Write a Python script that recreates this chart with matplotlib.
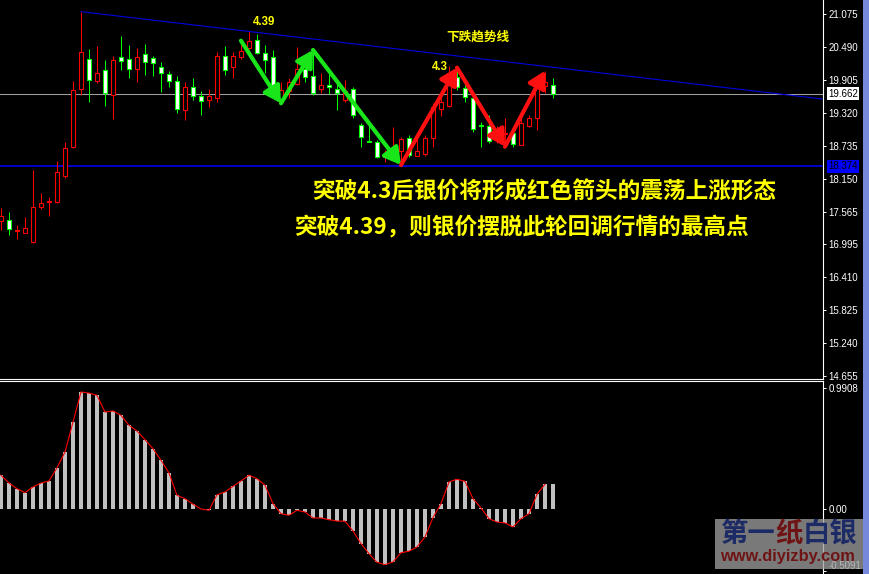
import numpy as np
import matplotlib
matplotlib.use("Agg")
import matplotlib.pyplot as plt
import matplotlib.transforms as mtransforms
from matplotlib.patches import Rectangle, FancyArrowPatch

# candles, one per bar on screen
opens = [17.409, 17.422, 17.235, 17.196, 17.026, 17.647, 17.741, 17.746, 18.207, 18.711,
         19.740, 20.272, 19.881, 20.077, 19.633, 20.307, 20.272, 20.105, 20.360, 20.289,
         20.130, 20.016, 19.881, 19.367, 19.775, 19.615, 19.545, 19.580, 20.325, 20.130,
         20.307, 20.467, 20.609, 20.378, 20.307, 19.520, 19.715, 19.828, 20.094, 19.970,
         19.740, 19.811, 19.740, 19.550, 19.740, 19.106, 18.823, 18.810, 18.544, 18.486,
         18.651, 18.881, 18.562, 18.587, 18.871, 19.385, 19.443, 19.963, 19.757, 19.580,
         19.098, 19.089, 18.853, 18.947, 18.959, 18.752, 19.089, 19.225, 19.798, 19.816]
highs = [17.634, 17.564, 17.333, 17.475, 18.308, 17.895, 17.824, 18.463, 18.810, 19.887,
         21.116, 20.449, 20.507, 20.259, 20.330, 20.685, 20.525, 20.467, 20.543, 20.330,
         20.224, 20.069, 19.975, 19.874, 19.940, 19.715, 19.740, 20.396, 20.502, 20.406,
         20.601, 20.765, 20.726, 20.520, 20.437, 19.874, 19.945, 20.484, 20.307, 20.437,
         20.034, 20.011, 19.857, 19.905, 19.775, 19.147, 19.147, 18.840, 18.663, 19.071,
         18.899, 18.929, 18.853, 18.929, 19.491, 19.608, 20.153, 20.123, 19.846, 19.651,
         19.165, 19.284, 19.089, 19.225, 18.988, 19.314, 19.284, 19.874, 20.069, 19.935]
lows = [17.244, 17.161, 17.090, 17.186, 17.020, 17.611, 17.498, 17.728, 18.172, 18.693,
        19.638, 19.520, 19.846, 19.443, 19.208, 20.082, 19.940, 19.874, 19.998, 19.975,
        19.692, 19.786, 19.314, 19.200, 19.550, 19.289, 19.420, 19.509, 19.988, 19.945,
        20.272, 20.449, 20.360, 20.023, 19.621, 19.491, 19.580, 19.816, 19.874, 19.638,
        19.679, 19.656, 19.372, 19.520, 19.225, 18.711, 18.805, 18.516, 18.456, 18.480,
        18.397, 18.544, 18.557, 18.557, 18.722, 19.266, 19.431, 19.727, 19.520, 18.988,
        18.711, 18.782, 18.782, 18.722, 18.722, 18.745, 19.076, 19.018, 19.679, 19.580]
closes = [17.493, 17.257, 17.253, 17.274, 17.647, 17.718, 17.759, 18.268, 18.693, 19.722,
          20.396, 19.899, 20.023, 19.669, 20.254, 20.236, 20.094, 20.307, 20.218, 20.201,
          20.023, 19.892, 19.385, 19.775, 19.615, 19.527, 19.615, 20.325, 20.077, 20.325,
          20.414, 20.591, 20.378, 20.254, 19.704, 19.727, 19.864, 20.094, 19.952, 19.679,
          19.811, 19.775, 19.674, 19.715, 19.278, 18.888, 18.810, 18.534, 18.569, 18.592,
          18.858, 18.574, 18.645, 18.881, 19.420, 19.520, 20.023, 19.775, 19.598, 19.030,
          19.080, 18.828, 18.947, 18.959, 18.769, 19.147, 19.225, 19.816, 19.874, 19.662]

# oscillator in the lower window
osc = [0.277, 0.213, 0.167, 0.134, 0.181, 0.213, 0.230, 0.339, 0.468, 0.714,
       0.961, 0.952, 0.933, 0.796, 0.805, 0.769, 0.687, 0.640, 0.569, 0.495,
       0.400, 0.296, 0.112, 0.085, 0.039, 0.000, -0.011, 0.117, 0.140, 0.186,
       0.230, 0.277, 0.249, 0.195, 0.044, -0.039, -0.052, -0.011, -0.025, -0.074,
       -0.074, -0.088, -0.099, -0.101, -0.181, -0.285, -0.367, -0.438, -0.457, -0.435,
       -0.359, -0.347, -0.312, -0.230, -0.071, 0.044, 0.222, 0.244, 0.227, 0.085,
       0.008, -0.080, -0.107, -0.115, -0.148, -0.080, -0.039, 0.121, 0.203, 0.208]

price_ticks = [21.075, 20.490, 19.905, 19.320, 18.735, 18.150, 17.565, 16.995,
               16.410, 15.825, 15.240, 14.655]
price_labels = ['21.075', '20.490', '19.905', '19.320', '18.735', '18.150', '17.565',
                '16.995', '16.410', '15.825', '15.240', '14.655']
osc_ticks = [0.9908, 0.0, -0.5091]
osc_labels = ['0.9908', '0.00', '-0.5091']

bid_price = 19.662
support_price = 18.374
trend_anchors = [10, 31]
green_pivots = [(30, 'H'), (35, 'L'), (39, 'H'), (50, 'L')]
red_pivots = [(50, 'L'), (57, 'H'), (63, 'L'), (68, 'H')]

line1 = '突破4.3后银价将形成红色箭头的震荡上涨形态'
line2 = '突破4.39，则银价摆脱此轮回调行情的最高点'

CJK = ['Noto Sans CJK SC', 'DejaVu Sans']
W, H = 869, 574
fig = plt.figure(figsize=(W / 100, H / 100), dpi=100, facecolor='black')
ax = fig.add_axes([0, 195 / H, 823 / W, 379 / H])
ax2 = fig.add_axes([0, 0, 823 / W, 193 / H])

xmin, xmax = -0.125, 102.75
for a in (ax, ax2):
    a.set_facecolor('black')
    a.set_xlim(xmin, xmax)
    a.set_xticks([])
    for s in a.spines.values():
        s.set_visible(False)
    a.spines['right'].set_visible(True)
    a.spines['right'].set_color('white')
    a.spines['right'].set_linewidth(0.8)
    a.yaxis.tick_right()
    a.tick_params(axis='y', colors='white', labelsize=7, length=2.2, width=0.7, pad=1.5)

ax.spines['bottom'].set_visible(True)
ax.spines['bottom'].set_color('white')
ax.spines['bottom'].set_linewidth(0.8)
ax2.spines['top'].set_visible(True)
ax2.spines['top'].set_color('white')
ax2.spines['top'].set_linewidth(0.8)

ax.set_ylim(14.602, 21.323)
ax.set_yticks(price_ticks)
ax.set_yticklabels(price_labels, family='Liberation Sans')
ax2.set_ylim(-0.534, 1.051)
ax2.set_yticks(osc_ticks)
osc_tl = ax2.set_yticklabels(osc_labels, family='Liberation Sans')
# bottom label sits just above its tick so it stays inside the window
osc_tl[-1].set_verticalalignment('bottom')

# candles
x = np.arange(len(opens))
o = np.array(opens)
c = np.array(closes)
bull = c >= o
wick_col = np.where(bull, '#ff0000', '#00ff00')
face_col = np.where(bull, 'black', 'white')
ax.vlines(x, lows, highs, colors=wick_col, linewidth=0.75, zorder=2)
ax.bar(x, np.maximum(np.abs(c - o), 0.004), bottom=np.minimum(o, c), width=0.55,
       color=face_col, edgecolor=wick_col, linewidth=0.8, zorder=3)

ax.axhline(bid_price, color='#a0a0a0', lw=0.75, zorder=1)
ax.axhline(support_price, color='#0000ff', lw=1.1, zorder=1)

# down trend line through two highs, extended to the right edge
x0, x1 = trend_anchors
slope = (highs[x1] - highs[x0]) / (x1 - x0)
ax.plot([x0, xmax], [highs[x0], highs[x0] + slope * (xmax - x0)],
        color='#0000e0', lw=0.8, zorder=2)


def pivot(p):
    i, kind = p
    return (i, highs[i] if kind == 'H' else lows[i])


for pivots, col in ((green_pivots, '#19e619'), (red_pivots, '#ff1010')):
    for a_, b_ in zip(pivots[:-1], pivots[1:]):
        arr = FancyArrowPatch(pivot(a_), pivot(b_),
                              arrowstyle='-|>,head_length=0.7,head_width=0.4',
                              mutation_scale=14, color=col, lw=3,
                              shrinkA=0, shrinkB=0, zorder=5)
        ax.add_patch(arr)

# labels
ax.text(32.9, 20.924, '4.39', color='#ffff00', fontsize=8.3, fontweight='bold',
        family='Liberation Sans', ha='center', va='center', zorder=6)
ax.text(54.8, 20.126, '4.3', color='#ffff00', fontsize=8.3, fontweight='bold',
        family='Liberation Sans', ha='center', va='center', zorder=6)
ax.text(59.6, 20.658, '下跌趋势线', color='#ffff00', fontsize=9.1, fontweight='bold',
        family=CJK, ha='center', va='center', zorder=6)
ax.text(38.9, 17.918, line1, color='#ffff00', fontsize=16.3, fontweight='bold',
        family=CJK, ha='left', va='center', zorder=6)
ax.text(36.6, 17.292, line2, color='#ffff00', fontsize=16.3, fontweight='bold',
        family=CJK, ha='left', va='center', zorder=6)

# price boxes on the axis
trans = mtransforms.blended_transform_factory(ax.transAxes, ax.transData)
ax.text(1.0061, bid_price, '19.662', transform=trans, color='black', fontsize=7,
        family='Liberation Sans', ha='left', va='center', clip_on=False,
        bbox=dict(boxstyle='square,pad=0.15', fc='white', ec='none'))
ax.text(1.0061, support_price, '18.374', transform=trans, color='black', fontsize=7,
        family='Liberation Sans', ha='left', va='center', clip_on=False,
        bbox=dict(boxstyle='square,pad=0.15', fc='#0000ff', ec='none'))

# oscillator
ax2.bar(x, osc, width=0.5, color='#c0c0c0', zorder=2)
ax2.plot(x[:-1], osc[:-1], color='#ff0000', lw=0.8, zorder=3)

# watermark + window edge
fig.add_artist(Rectangle((715 / W, 5 / H), 148 / W, 50 / H, transform=fig.transFigure,
                         facecolor='#a0a0a0', edgecolor='none', alpha=0.76, zorder=10))
wm_y = 1 - 534.5 / H
fig.text(720 / W, wm_y, '第一', color='#1c2a66', fontsize=19.7, fontweight='bold',
         family=CJK, ha='left', va='center', zorder=11)
fig.text(774.8 / W, wm_y, '纸', color='#6e1414', fontsize=19.7, fontweight='bold',
         family=CJK, ha='left', va='center', zorder=11)
fig.text(802.2 / W, wm_y, '白银', color='#1c2a66', fontsize=19.7, fontweight='bold',
         family=CJK, ha='left', va='center', zorder=11)
fig.text(720 / W, 1 - 556 / H, 'www.diyizby.com', color='#6e1414', fontsize=11.8,
         fontweight='bold', family='Liberation Sans', ha='left', va='center', zorder=11)
fig.add_artist(Rectangle((863 / W, 0), 6 / W, 1, transform=fig.transFigure,
                         facecolor='#7688dc', edgecolor='none', zorder=12))

fig.savefig('out.png', dpi=100, facecolor='black')
